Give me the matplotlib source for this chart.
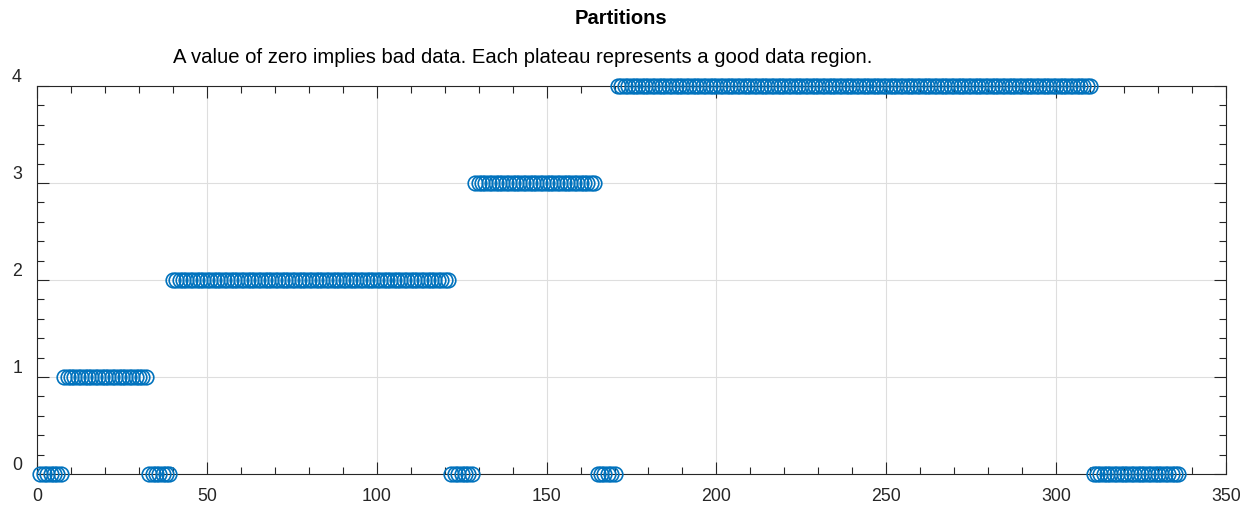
import matplotlib.pyplot as plt
from matplotlib.ticker import MultipleLocator
import numpy as np

plt.rcParams['font.family'] = ['Liberation Sans', 'DejaVu Sans']

# partition plateaus: level and how many consecutive samples hold it
levels = [0, 1, 0, 2, 0, 3, 0, 4, 0]
counts = [7, 25, 7, 82, 7, 36, 6, 140, 26]

part = np.repeat(levels, counts)
idx = np.arange(1, len(part) + 1)

dark = '#262626'
blue = '#0072BD'

fig = plt.figure(figsize=(12.57, 5.05), dpi=100)
ax = fig.add_axes([37 / 1257, 31 / 505, 1189 / 1257, 388 / 505])

ax.plot(idx, part, 'o', mfc='none', mec=blue, ms=10.5, mew=1.2,
        clip_on=False, zorder=3)

ax.set_xlim(0, 350)
ax.set_ylim(0, 4)
ax.set_xticks(np.arange(0, 351, 50))
ax.set_yticks(np.arange(0, 5, 1))
ax.xaxis.set_minor_locator(MultipleLocator(10))
ax.yaxis.set_minor_locator(MultipleLocator(0.2))

ax.grid(True, which='major', color='#dedede', lw=0.8)
ax.set_axisbelow(True)
for s in ax.spines.values():
    s.set_color(dark)
    s.set_linewidth(0.8)

ax.tick_params(which='both', direction='in', top=True, right=True,
               color=dark, labelcolor=dark, labelsize=12.8, width=0.8)
ax.tick_params(which='major', length=8.6)
ax.tick_params(which='minor', length=4.7)
ax.tick_params(axis='x', pad=10)
ax.tick_params(axis='y', pad=10.8)
plt.setp(ax.get_yticklabels(), va='bottom')

fig.text(621 / 1257, 1 - 24 / 505, 'Partitions', ha='center', va='baseline',
         fontsize=14.5, fontweight='bold', color='black')
fig.text(173 / 1257, 1 - 63 / 505,
         'A value of zero implies bad data. Each plateau represents a good data region.',
         ha='left', va='baseline', fontsize=14.6, color='black')

fig.savefig('out.png', dpi=100)
